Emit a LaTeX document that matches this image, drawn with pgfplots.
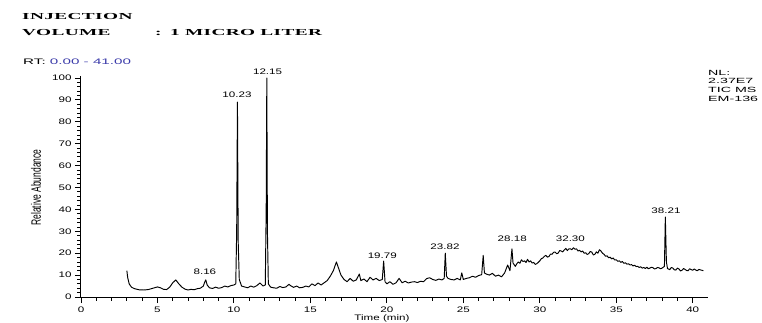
\documentclass[border=0pt]{standalone}
\usepackage{fontspec}
\setmainfont[FakeStretch=1.45]{Liberation Sans}
\newfontfamily\plainsans{Liberation Sans}
\newfontfamily\widesans[FakeStretch=1.9]{Liberation Sans}
\newfontfamily\hdr[FakeStretch=2.1,LetterSpace=4]{Liberation Serif}
\usepackage{pgfplots}
\pgfplotsset{compat=1.18}
\usepackage{pgfplotstable}
\definecolor{rtblue}{RGB}{60,60,170}

\pgfplotstableread{
x y
3.00 12.0
3.05 9.0
3.15 6.0
3.30 4.5
3.50 3.8
3.80 3.3
4.10 3.2
4.40 3.4
4.70 4.0
5.00 4.6
5.20 4.2
5.40 3.5
5.60 3.4
5.80 4.5
6.00 6.5
6.20 7.8
6.40 6.0
6.60 4.5
6.80 3.6
7.00 3.2
7.20 3.5
7.40 3.3
7.60 3.8
7.80 4.0
8.00 5.0
8.10 7.0
8.16 7.8
8.25 5.5
8.40 4.2
8.60 3.9
8.80 4.5
9.00 4.0
9.20 4.3
9.40 5.0
9.60 4.6
9.80 5.2
10.00 5.5
10.12 6.0
10.18 30
10.23 89
10.28 25
10.35 8
10.50 5.0
10.70 4.6
10.90 4.2
11.10 5.0
11.30 4.5
11.50 5.2
11.70 6.4
11.90 5.0
12.05 5.5
12.11 40
12.15 100
12.19 30
12.25 6
12.40 4.5
12.60 4.2
12.80 4.0
13.00 4.8
13.20 4.3
13.40 4.6
13.60 5.8
13.70 5.2
13.90 4.4
14.10 5.0
14.30 4.2
14.50 4.4
14.70 5.0
14.90 4.6
15.10 6.0
15.30 5.2
15.50 6.4
15.70 5.5
15.90 6.5
16.10 7.5
16.30 9.5
16.50 12
16.70 16
16.85 13
17.00 10
17.20 8.0
17.40 7.0
17.60 8.5
17.80 7.2
18.00 7.8
18.20 10.5
18.30 7.5
18.50 8.2
18.70 7.0
18.90 9.0
19.10 7.8
19.30 8.5
19.50 7.5
19.70 8.0
19.79 16.4
19.88 7.0
20.00 6.0
20.20 7.0
20.40 5.8
20.60 6.5
20.80 8.5
21.00 6.5
21.20 7.2
21.40 6.4
21.60 6.8
21.80 7.0
22.00 6.6
22.20 7.2
22.40 7.0
22.60 8.4
22.80 8.8
23.00 8.0
23.20 7.6
23.40 8.2
23.60 7.8
23.75 8.5
23.82 20
23.90 9.5
24.00 8.5
24.20 8.0
24.40 7.8
24.60 8.5
24.80 7.8
24.90 11
25.00 8.0
25.20 8.5
25.40 8.8
25.60 9.5
25.80 9.0
26.00 9.8
26.20 10.2
26.30 19
26.38 11
26.50 10.5
26.70 10.0
26.90 10.8
27.10 9.5
27.30 10.0
27.50 9.2
27.70 11
27.90 14.6
28.05 12
28.18 22
28.25 15.5
28.40 14
28.50 15.2
28.60 16
28.70 15.4
28.80 17
28.90 16.2
29.00 16.5
29.10 15.8
29.20 17.2
29.30 16.0
29.40 16.5
29.50 15.5
29.60 15.8
29.70 14.9
29.80 15.2
29.90 15.8
30.00 16.5
30.10 17.5
30.20 17.8
30.30 18.6
30.40 19.0
30.50 18.2
30.60 18.5
30.70 19.6
30.80 19.5
30.90 20.4
31.00 20.5
31.10 19.8
31.20 20.0
31.30 21.2
31.40 21.0
31.50 20.6
31.60 21.5
31.70 22.2
31.80 21.2
31.90 22.0
32.00 22.0
32.10 21.6
32.20 22.5
32.30 21.8
32.40 22.0
32.50 21.0
32.60 21.3
32.70 20.6
32.80 21.0
32.90 20.0
33.00 20.2
33.10 19.4
33.20 19.8
33.30 20.8
33.40 20.5
33.50 19.2
33.60 19.5
33.70 20.6
33.80 20.0
33.90 21.6
34.00 21.0
34.10 20.0
34.20 19.5
34.30 18.6
34.40 18.8
34.50 17.9
34.60 18.2
34.70 17.4
34.80 17.8
34.90 16.9
35.00 17.0
35.10 16.3
35.20 16.5
35.30 15.8
35.40 16.2
35.50 15.4
35.60 15.6
35.70 15.0
35.80 15.2
35.90 14.6
36.00 14.8
36.10 14.2
36.20 14.5
36.30 13.9
36.40 14.0
36.50 13.5
36.60 13.8
36.70 13.2
36.80 13.5
36.90 13.0
37.00 13.6
37.10 12.9
37.20 13.2
37.30 13.6
37.40 13.4
37.50 12.8
37.60 13.0
37.70 13.5
37.80 13.3
37.90 12.9
38.00 13.2
38.15 14
38.21 36.5
38.28 16
38.35 13
38.50 12.5
38.60 13.5
38.70 13.2
38.80 12.4
38.90 12.3
39.00 13.2
39.10 12.8
39.20 11.9
39.30 12.2
39.40 13.0
39.50 12.6
39.60 12.1
39.70 12.0
39.80 12.9
39.90 12.5
40.00 12.2
40.10 12.8
40.20 12.3
40.30 12.0
40.40 12.6
40.50 12.4
40.70 12.0
}\tic

\begin{document}
\begin{tikzpicture}
\begin{axis}[
  width=627pt, height=219pt, scale only axis,
  xmin=0, xmax=41, ymin=0, ymax=100,
  axis line style={draw=none},
  xtick pos=bottom, ytick pos=left,
  xtick={0,5,10,15,20,25,30,35,40},
  ytick={0,10,20,30,40,50,60,70,80,90,100},
  tick align=outside,
  major tick length=6pt,
  tick style={black, line width=0.9pt},
  ticklabel style={font=\fontsize{8}{9}\selectfont},
  /pgf/number format/assume math mode=true,
  xlabel={Time (min)},
  xlabel style={font=\fontsize{8}{9}\selectfont, at={(axis description cs:0.48,0)}, anchor=north, yshift=-14pt},
  clip=false,
]
\draw[black, line width=1pt] (rel axis cs:0,1.01) -- (rel axis cs:0,0) -- (rel axis cs:1,0);
\pgfplotsinvokeforeach{1,2,3,4,6,7,8,9,11,12,13,14,16,17,18,19,21,22,23,24,26,27,28,29,31,32,33,34,36,37,38,39}{
  \draw[black, line width=0.9pt] (axis cs:#1,0) -- ([yshift=-4pt]axis cs:#1,0);}
\pgfplotsinvokeforeach{0,5,10,15,20,25,30,35,40}{
  \draw[black, line width=0.9pt] (axis cs:#1,0) -- ([yshift=-6pt]axis cs:#1,0);}
\pgfplotsinvokeforeach{2,4,6,8,12,14,16,18,22,24,26,28,32,34,36,38,42,44,46,48,52,54,56,58,62,64,66,68,72,74,76,78,82,84,86,88,92,94,96,98}{
  \draw[black, line width=0.8pt] (axis cs:0,#1) -- ([xshift=-3.5pt]axis cs:0,#1);}
\pgfplotsinvokeforeach{0,10,20,30,40,50,60,70,80,90,100}{
  \draw[black, line width=0.9pt] (axis cs:0,#1) -- ([xshift=-6pt]axis cs:0,#1);}
\addplot[black, line width=0.95pt, line join=round] table[x=x,y=y] {\tic};
\begin{scope}[every node/.style={font=\fontsize{8}{9}\selectfont, inner sep=0pt}]
\node at (axis cs:8.1,11.4) {8.16};
\node at (axis cs:10.2,92.5) {10.23};
\node at (axis cs:12.2,103) {12.15};
\node at (axis cs:19.7,19) {19.79};
\node at (axis cs:23.8,23) {23.82};
\node at (axis cs:28.2,26.5) {28.18};
\node at (axis cs:32.0,26.5) {32.30};
\node at (axis cs:38.25,39.5) {38.21};
\end{scope}
\end{axis}
\node[font=\plainsans\fontsize{8.5}{9}\selectfont, xscale=1.6, rotate=90] at (-45pt,109.5pt) {Relative Abundance};
\node[anchor=base west, inner sep=0pt, font=\hdr\bfseries\fontsize{9.2}{10}\selectfont] at (-59pt,277pt) {INJECTION};
\node[anchor=base west, inner sep=0pt, font=\hdr\bfseries\fontsize{9.2}{10}\selectfont] at (-59pt,261pt) {VOLUME};
\node[anchor=base west, inner sep=0pt, font=\hdr\bfseries\fontsize{9.2}{10}\selectfont] at (74pt,261pt) {:};
\node[anchor=base west, inner sep=0pt, font=\hdr\bfseries\fontsize{9.2}{10}\selectfont] at (89pt,261pt) {1 MICRO LITER};
\node[anchor=base west, inner sep=0pt, font=\widesans\fontsize{8}{9}\selectfont] at (-58pt,233pt) {RT: \textcolor{rtblue}{0.00 - 41.00}};
\node[anchor=north west, inner sep=0pt, align=left, font=\widesans\fontsize{7.5}{8.6}\selectfont] at (627pt,227pt) {NL:\\2.37E7\\TIC MS\\EM-136};
\pgfresetboundingbox
\useasboundingbox (-81pt,-25pt) rectangle (681pt,297pt);
\end{tikzpicture}
\end{document}
